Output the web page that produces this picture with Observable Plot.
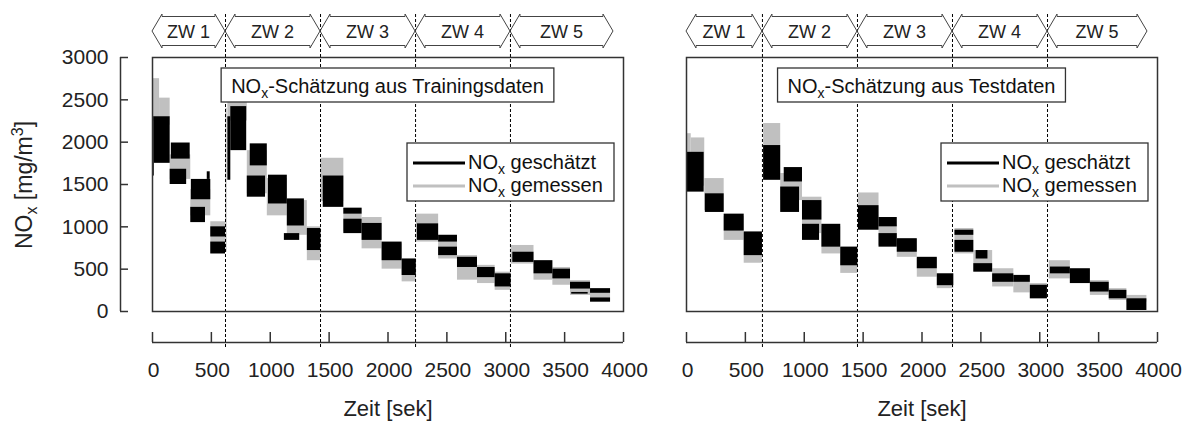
<!DOCTYPE html>
<html><head><meta charset="utf-8">
<script src="https://cdn.jsdelivr.net/npm/d3@7"></script>
<script src="https://cdn.jsdelivr.net/npm/@observablehq/plot@0.6"></script>
<style>
body{margin:0;background:#fff;}
#wrap{display:flex;width:1192px;height:421px;overflow:hidden;background:#fff;}
#wrap svg{display:block;flex:none;}
svg text{font-family:"Liberation Sans",Arial,sans-serif;}
g[aria-label="x-axis tick-label"] text, g[aria-label="y-axis tick-label"] text{letter-spacing:2px;}
g[aria-label="xlabel"] text{letter-spacing:1px;}
</style></head><body><div id="wrap"></div>
<script>
const xTicks = [0, 500, 1000, 1500, 2000, 2500, 3000, 3500, 4000];
const yTicks = [0, 500, 1000, 1500, 2000, 2500, 3000];
const zoneNames = ["ZW 1", "ZW 2", "ZW 3", "ZW 4", "ZW 5"];
const trainZoneEdges = [0, 620, 1427, 2234, 3040, 3915];
const testZoneEdges = [0, 645, 1452, 2259, 3066, 3915];
const seriesNames = ["geschätzt", "gemessen"];
const panelTitles = ["-Schätzung aus Trainingsdaten", "-Schätzung aus Testdaten"];
const xLabel = "Zeit [sek]";

// envelope blocks of the noisy traces: [t start, t end, low, high]
const trainMeasured = [
[0,60,2250,2750],[60,150,2200,2520],[150,325,1560,1850],[325,495,1130,1440],[495,620,680,1060],
[622,634,700,2400],[640,805,2250,2600],[805,975,1390,1900],[975,1145,1130,1570],[1145,1315,900,1310],[1315,1430,600,1000],
[1430,1625,1300,1810],[1625,1780,940,1220],[1780,1950,740,1110],[1950,2120,500,800],[2120,2240,350,620],
[2240,2430,820,1150],[2430,2590,620,900],[2590,2760,370,660],[2760,2910,330,545],[2910,3045,250,465],
[3045,3240,560,780],[3240,3400,370,600],[3400,3550,310,520],[3550,3720,190,365],[3720,3890,130,250]
];
const trainEstimated = [
[0,15,1600,2300],[15,150,1750,2300],[160,320,1800,1990],[150,290,1500,1680],[330,495,1320,1560],[465,490,1560,1650],
[325,450,1050,1230],[495,620,880,1000],[495,620,680,820],
[640,665,1550,2300],[665,800,1900,2420],[830,975,1720,1980],[805,960,1350,1600],[985,1145,1270,1610],[1145,1290,1010,1330],
[1120,1250,840,920],[1315,1430,720,980],
[1450,1625,1230,1600],[1625,1780,1150,1220],[1625,1780,920,1090],[1780,1950,840,1040],[1950,2120,600,820],[2120,2240,425,620],
[2250,2430,840,1035],[2430,2590,820,900],[2430,2590,660,760],[2590,2760,520,640],[2760,2910,400,520],[2910,3045,290,445],
[3060,3240,580,700],[3240,3400,445,600],[3400,3550,385,500],[3550,3720,265,345],[3560,3700,205,225],[3720,3890,215,270],[3720,3890,110,160]
];
const testMeasured = [
[0,40,1500,2100],[40,155,1480,2050],[155,320,1190,1570],[320,490,840,1120],[490,645,570,920],
[655,800,1550,2220],[800,985,1310,1630],[985,1150,920,1350],[1150,1310,680,1000],[1310,1455,450,760],
[1460,1635,1000,1400],[1635,1790,780,1020],[1790,1960,640,850],[1960,2130,405,625],[2130,2270,270,445],
[2280,2440,680,980],[2440,2600,465,720],[2600,2780,290,505],[2780,2920,220,430],[2920,3065,150,330],
[3080,3260,385,600],[3260,3430,330,500],[3430,3590,190,365],[3590,3740,130,270],[3740,3910,110,190]
];
const testEstimated = [
[0,150,1410,1880],[160,320,1170,1390],[320,490,950,1150],[490,645,660,940],
[655,800,1550,1960],[830,985,1530,1700],[800,960,1170,1470],[985,1150,1080,1310],[985,1130,840,1030],[1150,1310,760,1030],[1310,1455,540,760],
[1460,1635,960,1250],[1635,1790,1000,1110],[1635,1790,760,920],[1790,1960,700,860],[1960,2130,505,640],[2130,2270,305,445],
[2280,2440,900,960],[2280,2440,700,840],[2460,2560,620,720],[2440,2600,465,565],[2600,2780,345,445],[2780,2920,345,425],[2920,3065,150,310],
[3090,3260,445,525],[3260,3430,330,505],[3430,3590,230,345],[3590,3740,150,250],[3740,3910,12,150]
];

const toRows = a => a.map(([t0, t1, lo, hi]) => ({t0, t1, lo, hi}));

function subText(sel, parts, baseSize) {
  let shift = 0;
  for (const [t, kind] of parts) {
    const ts = sel.append("tspan").text(t);
    const target = kind === "sub" ? baseSize * 0.25 : kind === "sup" ? -baseSize * 0.38 : 0;
    ts.attr("dy", target - shift);
    shift = target;
    if (kind) ts.attr("font-size", Math.round(baseSize * 0.7));
  }
}

function decor(edges, title, showYLabel) {
  return (index, scales, values, dim) => {
    const {width, marginLeft, marginRight, marginTop} = dim;
    const sx = scales.x;
    const fl = marginLeft, fr = width - marginRight, ft = marginTop;
    const g = d3.create("svg:g");
    const h = 10, yT = 14, yS = 16.5, yM = 31, yB2 = 45.5, yB = 48;
    for (let i = 0; i < zoneNames.length; i++) {
      const x0 = sx(edges[i]), x1 = sx(edges[i + 1]);
      g.append("path")
        .attr("d", `M${x0},${yM}L${x0+h},${yT}L${x0+h},${yS}L${x1-h},${yS}L${x1-h},${yT}L${x1},${yM}L${x1-h},${yB}L${x1-h},${yB2}L${x0+h},${yB2}L${x0+h},${yB}Z`)
        .attr("fill", "none").attr("stroke", "#444").attr("stroke-width", 1);
      g.append("text").attr("x", (x0 + x1) / 2).attr("y", 37.5)
        .attr("text-anchor", "middle").attr("font-size", 18).attr("fill", "#222")
        .text(zoneNames[i]);
    }
    const cx = (fl + fr) / 2;
    const tb = g.append("g").attr("class", "titlebox");
    tb.append("rect").attr("x", cx - 160).attr("y", 68).attr("width", 320).attr("height", 34)
      .attr("fill", "#fff").attr("stroke", "#333").attr("stroke-width", 1.3);
    const tt = tb.append("text").attr("x", cx).attr("y", 92.5).attr("text-anchor", "middle")
      .attr("font-size", 20).attr("fill", "#111");
    subText(tt, [["NO", ""], ["x", "sub"], [title, ""]], 20);
    const lw = 207, lx = fr - 9 - lw, ly = ft + 86;
    g.append("rect").attr("x", lx).attr("y", ly).attr("width", lw).attr("height", 58)
      .attr("fill", "#fff").attr("stroke", "#333").attr("stroke-width", 1.3);
    const colors = ["#000", "#c0c0c0"];
    seriesNames.forEach((name, i) => {
      const yy = ly + 20 + i * 23;
      g.append("line").attr("x1", lx + 6).attr("x2", lx + 58).attr("y1", yy).attr("y2", yy)
        .attr("stroke", colors[i]).attr("stroke-width", 3);
      const t = g.append("text").attr("x", lx + 61).attr("y", yy + 5.5)
        .attr("text-anchor", "start").attr("font-size", 20).attr("fill", "#111");
      subText(t, [["NO", ""], ["x", "sub"], [" " + name, ""]], 20);
    });
    if (showYLabel) {
      const t = g.append("text").attr("transform", `translate(31.5,185) rotate(-90)`)
        .attr("text-anchor", "middle").attr("font-size", 23).attr("fill", "#222");
      subText(t, [["NO", ""], ["x", "sub"], [" [mg/m", ""], ["3", "sup"], ["]", ""]], 23);
    }
    return g.node();
  };
}

function panel({measured, estimated, edges, title, showY, width, marginLeft, marginRight}) {
  const innerW = width - marginLeft - marginRight;
  const marks = [
    Plot.rect(toRows(measured), {x1: "t0", x2: "t1", y1: "lo", y2: "hi", fill: "#c0c0c0"}),
    Plot.rect(toRows(estimated), {x1: "t0", x2: "t1", y1: "lo", y2: "hi", fill: "#000"}),
    Plot.ruleX(edges.slice(1, -1), {stroke: "#000", strokeWidth: 1, strokeDasharray: "3,2", insetTop: -43, insetBottom: -38}),
    Plot.frame({stroke: "#333", strokeWidth: 1.5}),
    Plot.ruleY([0], {dy: 31, stroke: "#333", strokeWidth: 1.5}),
    Plot.tickX(xTicks, {insetTop: 254 + 21, insetBottom: -31, stroke: "#333", strokeWidth: 1.5}),
    Plot.axisX(xTicks, {tickSize: 0, tickPadding: 51, fontSize: 21, label: null, dx: 1, fill: "#222", tickFormat: d => String(d)}),
    Plot.text([xLabel], {frameAnchor: "bottom", dy: 89, lineAnchor: "top", fontSize: 22, fill: "#222", text: d => d, ariaLabel: "xlabel"})
  ];
  if (showY) {
    marks.push(
      Plot.ruleX([0], {dx: -32, stroke: "#333", strokeWidth: 1.5}),
      Plot.tickY(yTicks, {insetLeft: -32, insetRight: innerW + 32 - 8, stroke: "#333", strokeWidth: 1.5}),
      Plot.axisY(yTicks, {tickSize: 0, tickPadding: 44, fontSize: 21, label: null, fill: "#222", tickFormat: d => String(d)})
    );
  }
  marks.push(decor(edges, title, showY));
  return Plot.plot({
    width, height: 421,
    marginTop: 57, marginBottom: 110, marginLeft, marginRight,
    x: {domain: [0, 4000], axis: null},
    y: {domain: [0, 3000], axis: null},
    style: {background: "#fff", fontFamily: "'Liberation Sans', Arial, sans-serif", overflow: "visible"},
    marks
  });
}

const wrap = document.getElementById("wrap");
wrap.append(panel({measured: trainMeasured, estimated: trainEstimated, edges: trainZoneEdges, title: panelTitles[0], showY: true, width: 660, marginLeft: 152, marginRight: 37}));
wrap.append(panel({measured: testMeasured, estimated: testEstimated, edges: testZoneEdges, title: panelTitles[1], showY: false, width: 532, marginLeft: 26, marginRight: 35}));

wrap.querySelectorAll("g.titlebox").forEach(tb => {
  const text = tb.querySelector("text"), rect = tb.querySelector("rect");
  const bb = text.getBBox();
  const w = bb.width + 20, cx = bb.x + bb.width / 2;
  rect.setAttribute("x", cx - w / 2);
  rect.setAttribute("width", w);
});
</script>
</body></html>
